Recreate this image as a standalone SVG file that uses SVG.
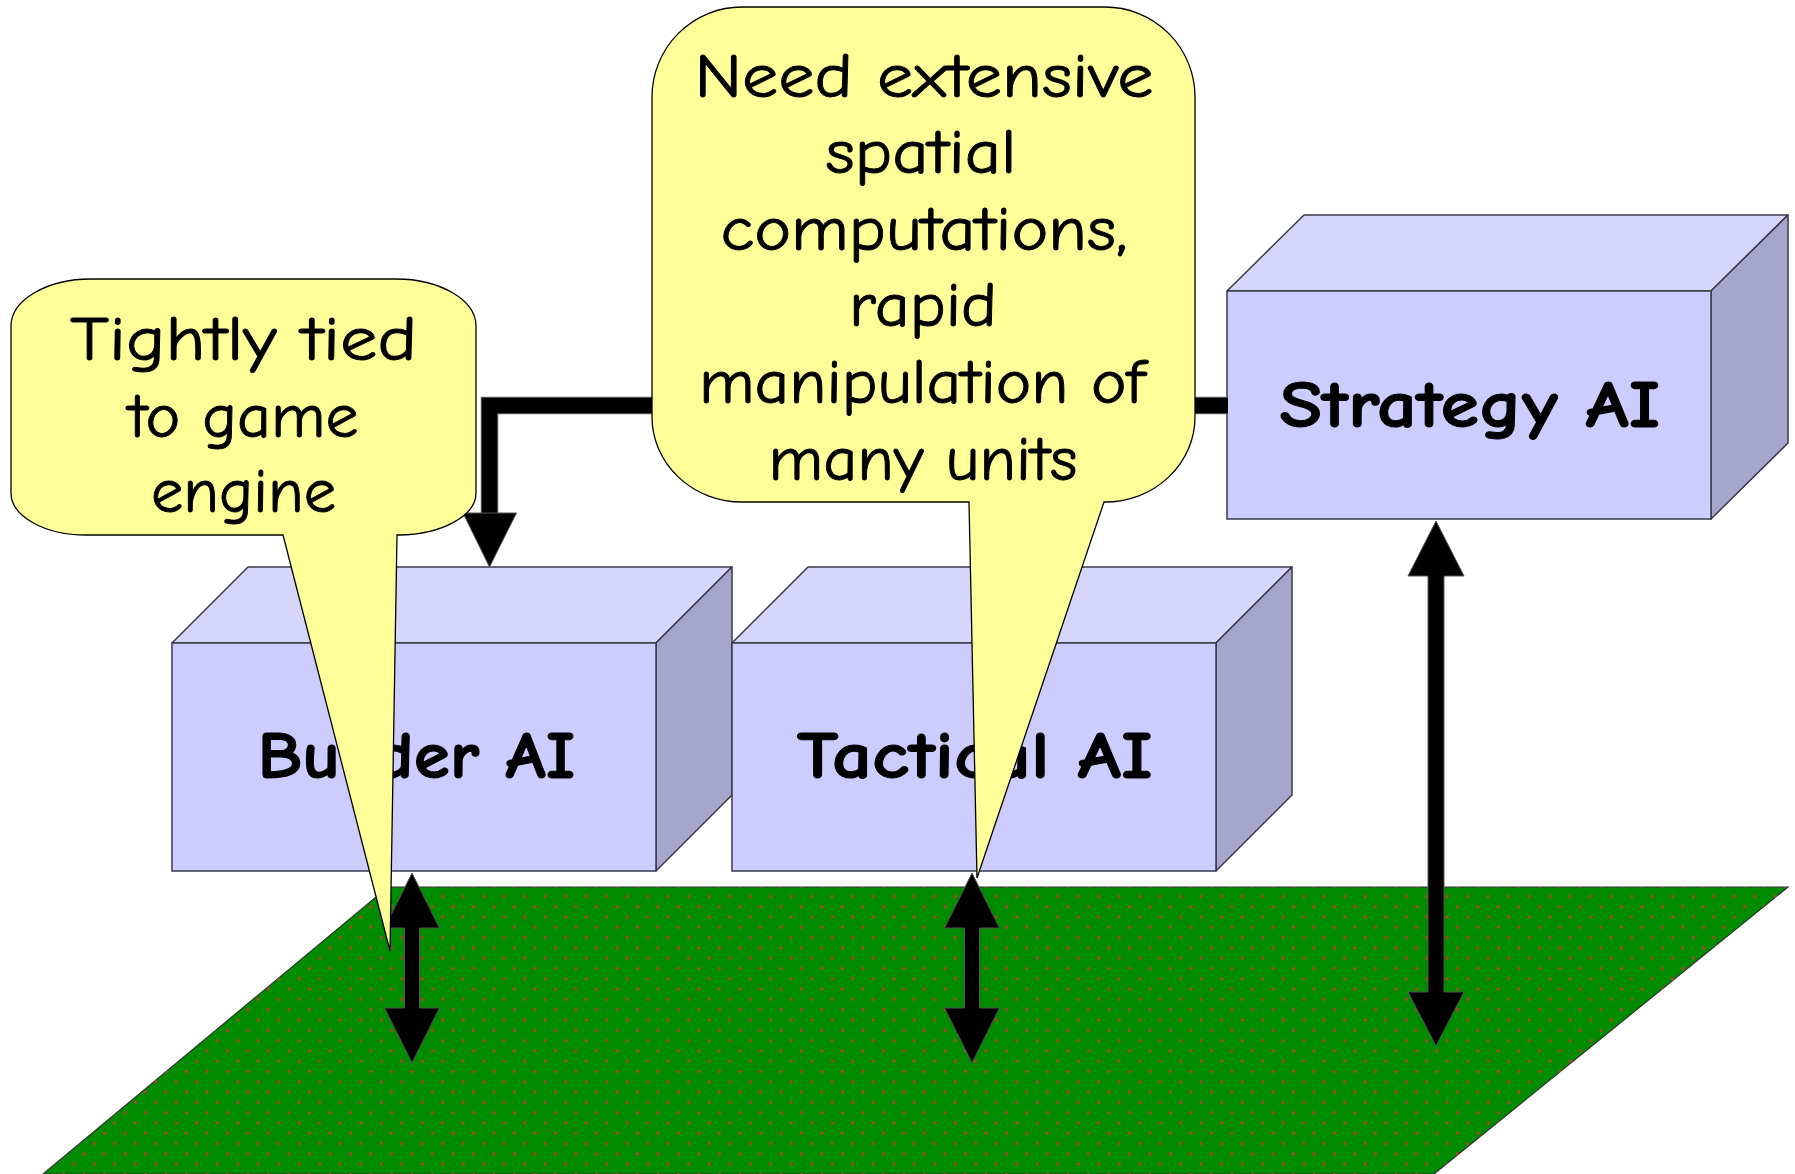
<svg xmlns="http://www.w3.org/2000/svg" width="1795" height="1174" viewBox="0 0 1795 1174">
  <defs>
    <!-- speckled texture laid over the ground plane -->
    <pattern id="speckle" patternUnits="userSpaceOnUse" x="7.2" y="5.7" width="20.5" height="20.6">
      <circle cx="5" cy="5" r="1.7" fill="#a8482a"/>
      <circle cx="15.25" cy="15.3" r="1.7" fill="#a8482a"/>
    </pattern>
    <style>
      .front { fill: #ccccff; stroke: #3a3a4a; stroke-width: 1.5; }
      .top { fill: #d6d6fc; stroke: #3a3a4a; stroke-width: 1.5; stroke-linejoin: round; }
      .side { fill: #a6a6cc; stroke: #3a3a4a; stroke-width: 1.5; stroke-linejoin: round; }
      .label { font-family: "Comic Sans MS", "Comic Neue", "Open Sans", sans-serif; font-weight: bold; font-size: 66px; fill: #000; stroke: #000; stroke-width: 1; text-anchor: middle; }
      .callout { fill: #ffff99; stroke: #000; stroke-width: 1.3; stroke-linejoin: miter; }
      .note { font-family: "Comic Sans MS", "Comic Neue", "Open Sans", sans-serif; font-size: 63px; fill: #000; stroke: #000; stroke-width: 0.9; text-anchor: middle; }
      .arrow { fill: #000; stroke: #555; stroke-width: 1; stroke-linejoin: miter; }
    </style>
  </defs>

  <!-- ground plane -->
  <g id="ground">
    <polygon points="388,887 1788,887 1434,1174 43,1174" fill="#008c00" stroke="#333" stroke-width="1.2"/>
    <polygon points="388,887 1788,887 1434,1174 43,1174" fill="url(#speckle)"/>
  </g>

  <!-- Builder AI block -->
  <g id="builder-ai">
    <polygon class="top" points="172,643 248,567 732,567 656,643"/>
    <polygon class="side" points="656,643 732,567 732,795 656,871"/>
    <rect class="front" x="172" y="643" width="484" height="228"/>
    <text class="label" x="416.5" y="778" textLength="318" lengthAdjust="spacingAndGlyphs">Builder AI</text>
  </g>

  <!-- Tactical AI block -->
  <g id="tactical-ai">
    <polygon class="top" points="732,643 808,567 1292,567 1216,643"/>
    <polygon class="side" points="1216,643 1292,567 1292,795 1216,871"/>
    <rect class="front" x="732" y="643" width="484" height="228"/>
    <text class="label" x="975" y="778" textLength="356" lengthAdjust="spacingAndGlyphs">Tactical AI</text>
  </g>

  <!-- Strategy AI block -->
  <g id="strategy-ai">
    <polygon class="top" points="1227,291 1304,215 1788,215 1711,291"/>
    <polygon class="side" points="1711,291 1788,215 1788,443 1711,519"/>
    <rect class="front" x="1227" y="291" width="484" height="228"/>
    <text class="label" x="1470" y="427" textLength="381" lengthAdjust="spacingAndGlyphs">Strategy AI</text>
  </g>

  <!-- connectors -->
  <g id="connectors">
    <!-- strategy to builder elbow -->
    <path d="M1228,405.5 H489.5 V514" fill="none" stroke="#666" stroke-width="17.5" stroke-linejoin="miter"/>
    <path d="M1228,405.5 H489.5 V514" fill="none" stroke="#000" stroke-width="15.5" stroke-linejoin="miter"/>
    <polygon class="arrow" points="463,513 516.5,513 489.5,567"/>
    <!-- builder <-> ground -->
    <polygon class="arrow" points="412,873 439.5,928 419.5,928 419.5,1008 439.5,1008 412,1063 384.5,1008 404.5,1008 404.5,928 384.5,928"/>
    <!-- tactical <-> ground -->
    <polygon class="arrow" points="972,873 999.5,928 979.5,928 979.5,1008 999.5,1008 972,1063 944.5,1008 964.5,1008 964.5,928 944.5,928"/>
    <!-- strategy <-> ground -->
    <polygon class="arrow" points="1436,521 1464,576 1444,576 1444,992 1464,992 1436,1046 1408,992 1428,992 1428,576 1408,576"/>
  </g>

  <!-- callout on the builder -->
  <g id="callout-engine">
    <path class="callout" d="M91,279 H396 A80,47 0 0 1 476,326 V493 A79,42 0 0 1 399,535 H397 L390,951 L283,535 H86 A75,42 0 0 1 11,493 V326 A80,47 0 0 1 91,279 Z"/>
    <text class="note" x="243.5" y="360" textLength="347" lengthAdjust="spacingAndGlyphs">Tightly tied</text>
    <text class="note" x="243.5" y="436.7" textLength="230" lengthAdjust="spacingAndGlyphs">to game</text>
    <text class="note" x="243.5" y="511.7" textLength="185" lengthAdjust="spacingAndGlyphs">engine</text>
  </g>

  <!-- callout on the tactical layer -->
  <g id="callout-spatial">
    <path class="callout" d="M742,7 H1105 A90,90 0 0 1 1195,97 V417 A90,85 0 0 1 1105,502 H1104 L977,878 L969,502 H742 A90,85 0 0 1 652,417 V97 A90,90 0 0 1 742,7 Z"/>
    <text class="note" x="924" y="97" textLength="459" lengthAdjust="spacingAndGlyphs">Need extensive</text>
    <text class="note" x="921" y="173" textLength="191" lengthAdjust="spacingAndGlyphs">spatial</text>
    <text class="note" x="924" y="250" textLength="407" lengthAdjust="spacingAndGlyphs">computations,</text>
    <text class="note" x="923" y="326" textLength="148" lengthAdjust="spacingAndGlyphs">rapid</text>
    <text class="note" x="922" y="403" textLength="446" lengthAdjust="spacingAndGlyphs">manipulation of</text>
    <text class="note" x="923" y="480" textLength="309" lengthAdjust="spacingAndGlyphs">many units</text>
  </g>
</svg>
